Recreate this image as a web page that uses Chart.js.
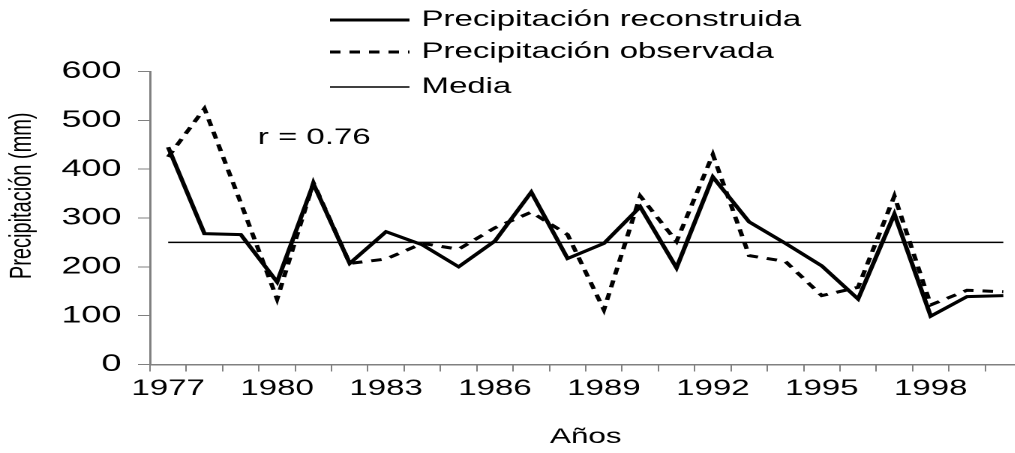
<!DOCTYPE html>
<html>
<head>
<meta charset="utf-8">
<script src="https://cdn.jsdelivr.net/npm/chart.js@4.4.1/dist/chart.umd.min.js"></script>
<style>
  html, body { margin: 0; padding: 0; background: #fff; overflow: hidden; }
  /* the original picture is stretched sideways, so the whole chart is drawn narrow and widened */
  #wrap { width: 682px; height: 453px; transform: scaleX(1.5); transform-origin: 0 0; }
</style>
</head>
<body>
<div id="wrap"><canvas id="myChart" width="682" height="453"></canvas></div>
<script>
var years = ['1977','1978','1979','1980','1981','1982','1983','1984','1985','1986','1987','1988',
             '1989','1990','1991','1992','1993','1994','1995','1996','1997','1998','1999','2000']
var reconstruida = [445, 268, 266, 169, 370, 207, 272, 245, 200, 253, 353, 217,
                    248, 323, 198, 384, 292, 248, 202, 134, 308, 99, 139, 141]
var observada = [425, 524, 331, 134, 372, 207, 216, 248, 236, 280, 312, 266,
                 112, 345, 252, 430, 223, 211, 141, 158, 345, 122, 152, 149]
var media = [250, 250, 250, 250, 250, 250, 250, 250, 250, 250, 250, 250,
             250, 250, 250, 250, 250, 250, 250, 250, 250, 250, 250, 250]
var yTicks = [0, 100, 200, 300, 400, 500, 600]

var fuente = '"Liberation Sans", Arial, sans-serif'

// legend stacked in one column above the plot, and the r label
var leyenda = {
  id: 'leyenda',
  afterDraw(chart) {
    var ctx = chart.ctx
    var filas = [20, 52, 87]
    ctx.save()
    ctx.font = '22px ' + fuente
    ctx.fillStyle = '#000'
    ctx.textBaseline = 'middle'
    ctx.textAlign = 'left'
    chart.data.datasets.forEach((ds, i) => {
      var y = filas[i]
      ctx.beginPath()
      ctx.lineWidth = ds.borderWidth
      ctx.strokeStyle = ds.borderColor
      ctx.setLineDash(ds.borderDash || [])
      ctx.moveTo(220, y)
      ctx.lineTo(273, y)
      ctx.stroke()
      ctx.setLineDash([])
      ctx.fillText(ds.label, 281, y)
    })
    var sx = chart.scales.x, sy = chart.scales.y
    ctx.fillText('r = 0.76', sx.getPixelForValue(2.47), sy.getPixelForValue(464))
    ctx.restore()
  }
}

const ctx = document.getElementById('myChart')
new Chart(ctx, {
  type: 'line',
  data: {
    labels: years,
    datasets: [{
      label: 'Precipitación reconstruida',
      data: reconstruida,
      borderColor: '#000',
      borderWidth: 3,
      pointRadius: 0,
      tension: 0
    }, {
      label: 'Precipitación observada',
      data: observada,
      borderColor: '#000',
      borderWidth: 3,
      borderDash: [7, 6],
      pointRadius: 0,
      tension: 0
    }, {
      label: 'Media',
      data: media,
      borderColor: '#000',
      borderWidth: 1.5,
      pointRadius: 0,
      tension: 0
    }]
  },
  options: {
    responsive: false,
    devicePixelRatio: 2,
    animation: false,
    layout: { padding: { top: 71.5, right: 1, bottom: 0, left: 0 } },
    plugins: {
      legend: { display: false },
      tooltip: { enabled: false }
    },
    scales: {
      x: {
        offset: true,
        grid: { offset: true, drawOnChartArea: false, drawTicks: true, tickLength: 7, color: '#808080' },
        border: { color: '#808080', width: 1.5 },
        ticks: {
          autoSkip: false,
          maxRotation: 0,
          padding: 4,
          color: '#000',
          font: { family: fuente, size: 22 },
          callback: function (val, idx) { return idx % 3 === 0 ? years[idx] : '' }
        },
        title: {
          display: true,
          text: 'Años',
          color: '#000',
          font: { family: fuente, size: 21 },
          padding: { top: 0, bottom: 3 }
        },
        afterFit: function (scale) { scale.height = 88.5 }
      },
      y: {
        min: 0,
        max: 600,
        grid: { drawOnChartArea: false, drawTicks: true, tickLength: 8, color: '#808080' },
        border: { color: '#808080', width: 1.5 },
        afterBuildTicks: function (scale) { scale.ticks = yTicks.map(v => ({ value: v })) },
        ticks: {
          padding: 11,
          color: '#000',
          font: { family: fuente, size: 24 }
        },
        title: {
          display: true,
          text: '        Precipitación (mm)',
          color: '#000',
          font: { family: fuente, size: 20 },
          padding: { top: 3, bottom: 0 }
        },
        afterFit: function (scale) { scale.width = 100 }
      }
    }
  },
  plugins: [leyenda]
})
</script>
</body>
</html>
